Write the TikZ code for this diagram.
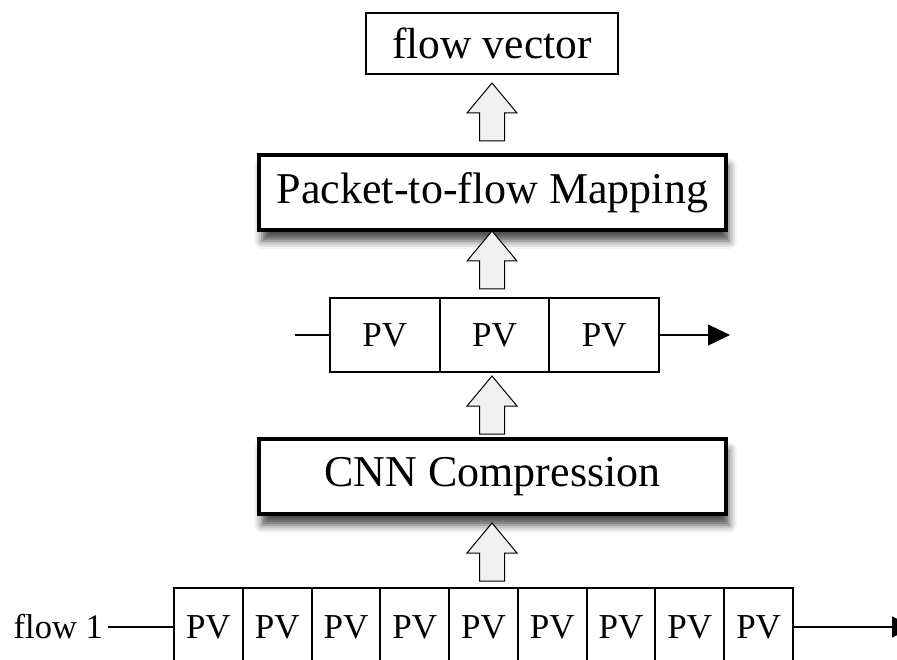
\documentclass[tikz,border=0pt]{standalone}
\usepackage{fontspec}
\setmainfont{Liberation Serif}
\usetikzlibrary{arrows.meta,shadows.blur}
\definecolor{arrowfill}{HTML}{F0F0F0}
\newcommand{\blockarrowat}[1]{%
  \draw[blockarr] (#1) ++(-12.5,0) -- ++(0,-28) -- ++(-12.5,0) -- ++(25,-30) -- ++(25,30) -- ++(-12.5,0) -- ++(0,28) -- cycle;}
\begin{document}
\begin{tikzpicture}[x=1pt,y=-1pt,
  bigbox/.style={draw, line width=3.2pt, fill=white, minimum width=467pt, minimum height=75pt, inner sep=0pt,
    font=\fontsize{44}{50}\selectfont,
    blur shadow={shadow xshift=3pt, shadow yshift=-11pt, shadow blur radius=8pt, shadow opacity=70}},
  topbox/.style={draw, line width=2.4pt, fill=white, minimum width=252pt, minimum height=61pt, inner sep=0pt,
    font=\fontsize{43.5}{50}\selectfont},
  pvcell/.style={draw, line width=2pt, fill=white, minimum width=109.67pt, minimum height=74pt, inner sep=0pt,
    font=\fontsize{35}{40}\selectfont},
  pvsmall/.style={draw, line width=2pt, fill=white, minimum width=68.78pt, minimum height=78pt, inner sep=0pt,
    font=\fontsize{35}{40}\selectfont},
  conn/.style={line width=1.2pt},
  connarrow/.style={line width=1.2pt, -{Triangle[length=22pt,width=21pt]}},
  blockarr/.style={draw, line width=1pt, fill=arrowfill, line join=miter},
  lbl/.style={inner xsep=5pt, inner ysep=0pt, font=\fontsize{34.5}{40}\selectfont}
]
\useasboundingbox (0,0) rectangle (897,660);

% main boxes
\node[topbox] (fv) at (492,43.5) {flow vector};
\node[bigbox] (ptf) at (492.5,192.5) {Packet-to-flow Mapping};
\node[bigbox] (cnn) at (492.5,476.5) {CNN Compression};

% middle PV row
\node[pvcell] (r1) at (384.8,335) {PV};
\node[pvcell] (r2) at (494.5,335) {PV};
\node[pvcell] (r3) at (604.2,335) {PV};
\coordinate (r1start) at (295,335);
\coordinate (r1end) at (730,335);
\draw[conn] (r1start) -- (r1.west);
\draw[connarrow] (r3.east) -- (r1end);

% bottom PV row
\foreach \i in {1,...,9} {
  \node[pvsmall] (b\i) at ({174+34.39+68.78*(\i-1)},627) {PV};
}
\node[lbl, anchor=base east] (flowlbl) at (108,638) {flow 1};
\draw[conn] (flowlbl.east |- b1.west) -- (b1.west);
\coordinate (bend) at (914,627);
\draw[connarrow] (b9.east) -- (bend);

% block arrows (bottom-centre points)
\coordinate (a1) at (492,141);
\coordinate (a2) at (492,289);
\coordinate (a3) at (492,434);
\coordinate (a4) at (492,581);
\blockarrowat{a1}
\blockarrowat{a2}
\blockarrowat{a3}
\blockarrowat{a4}
\end{tikzpicture}
\end{document}
